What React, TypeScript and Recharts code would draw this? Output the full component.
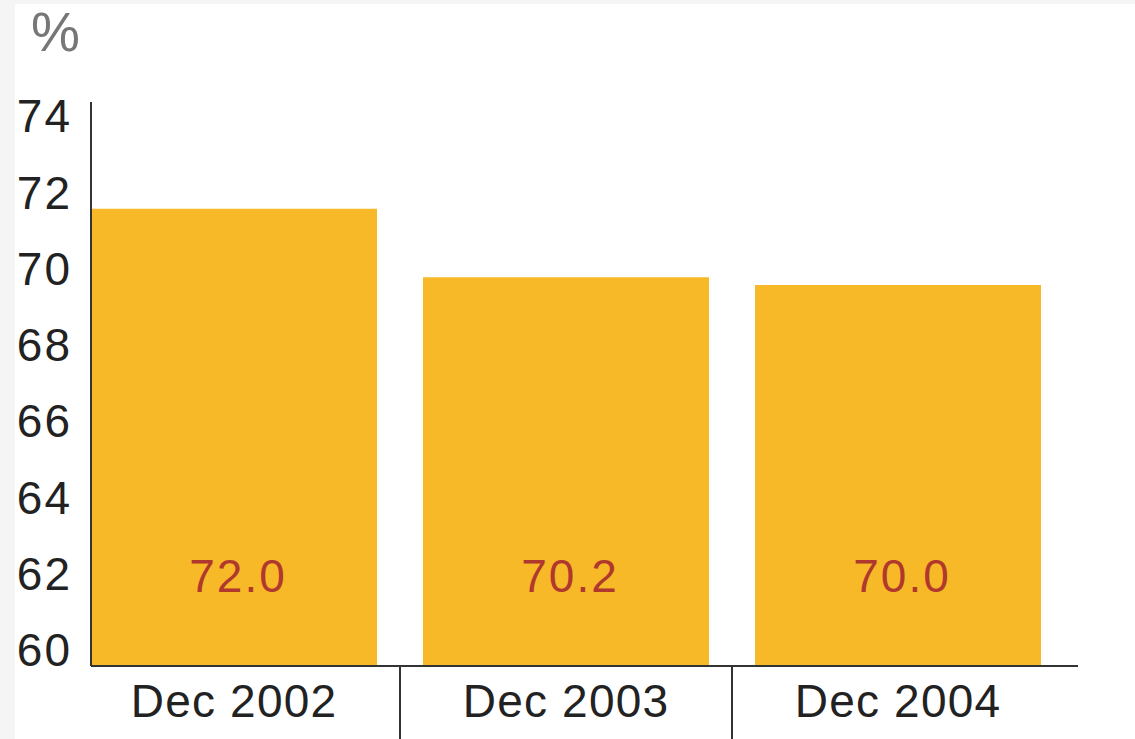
import React from 'react'
import { BarChart, Bar, XAxis, YAxis, LabelList } from 'recharts'

// values
const categories = ['Dec 2002', 'Dec 2003', 'Dec 2004']
const values = [72.0, 70.2, 70.0]
const yTicks = [60, 62, 64, 66, 68, 70, 72, 74]

const data = categories.map((name, i) => ({ name, value: values[i] }))

const FONT = '"Liberation Sans", Arial, sans-serif'

const XTick = (props: any) => {
    const { x, y, payload, index } = props
    const half = payload && payload.offset ? payload.offset : 0
    return (
        <g>
            <text x={x} y={y + 51} textAnchor="middle" fontFamily={FONT} fontSize={46} letterSpacing={1.2} fill="#222">
                {payload.value}
            </text>
            {index < categories.length - 1 && half > 0 && (
                <line x1={x + half} y1={y} x2={x + half} y2={y + 80} stroke="#333" strokeWidth={2} />
            )}
        </g>
    )
}

const YTick = (props: any) => {
    const { x, y, payload } = props
    return (
        <text x={x} y={y} textAnchor="end" fontFamily={FONT} fontSize={46} letterSpacing={2} fill="#222">
            {payload.value}
        </text>
    )
}

const ValueLabel = (props: any) => {
    const { x, y, width, height, value } = props
    return (
        <text x={x + width / 2 + 4} y={y + height - 74} textAnchor="middle" fontFamily={FONT} fontSize={46} letterSpacing={2} fill="#b0382c">
            {Number(value).toFixed(1)}
        </text>
    )
}

const App: React.FC = () => {
    return (
        <div style={{ position: 'fixed', left: 0, top: 0, width: 1135, height: 739, background: '#f5f5f5', overflow: 'hidden' }}>
            <div style={{ position: 'absolute', left: 15, top: 4, right: 0, bottom: 0, background: '#fff' }} />
            <div style={{ position: 'absolute', left: 31, top: 2, fontFamily: FONT, fontSize: 55, lineHeight: '60px', color: '#777' }}>%</div>
            <div style={{ position: 'absolute', left: 0, top: 0 }}>
                <BarChart width={1135} height={739} data={data} margin={{ top: 102, right: 57, bottom: 0, left: 0 }} barCategoryGap={23}>
                    <XAxis
                        dataKey="name"
                        height={73}
                        padding={{ left: -23, right: 14 }}
                        axisLine={{ stroke: '#333', strokeWidth: 2 }}
                        tickLine={false}
                        tickSize={0}
                        tickMargin={0}
                        interval={0}
                        tick={<XTick />}
                    />
                    <YAxis
                        width={91}
                        domain={[60, 74.8]}
                        ticks={yTicks}
                        allowDataOverflow
                        axisLine={{ stroke: '#333', strokeWidth: 2 }}
                        tickLine={false}
                        tickSize={0}
                        tickMargin={19}
                        interval={0}
                        tick={<YTick />}
                    />
                    <Bar dataKey="value" fill="#f7b928" isAnimationActive={false}>
                        <LabelList dataKey="value" content={<ValueLabel />} />
                    </Bar>
                </BarChart>
            </div>
        </div>
    )
}

export default App
